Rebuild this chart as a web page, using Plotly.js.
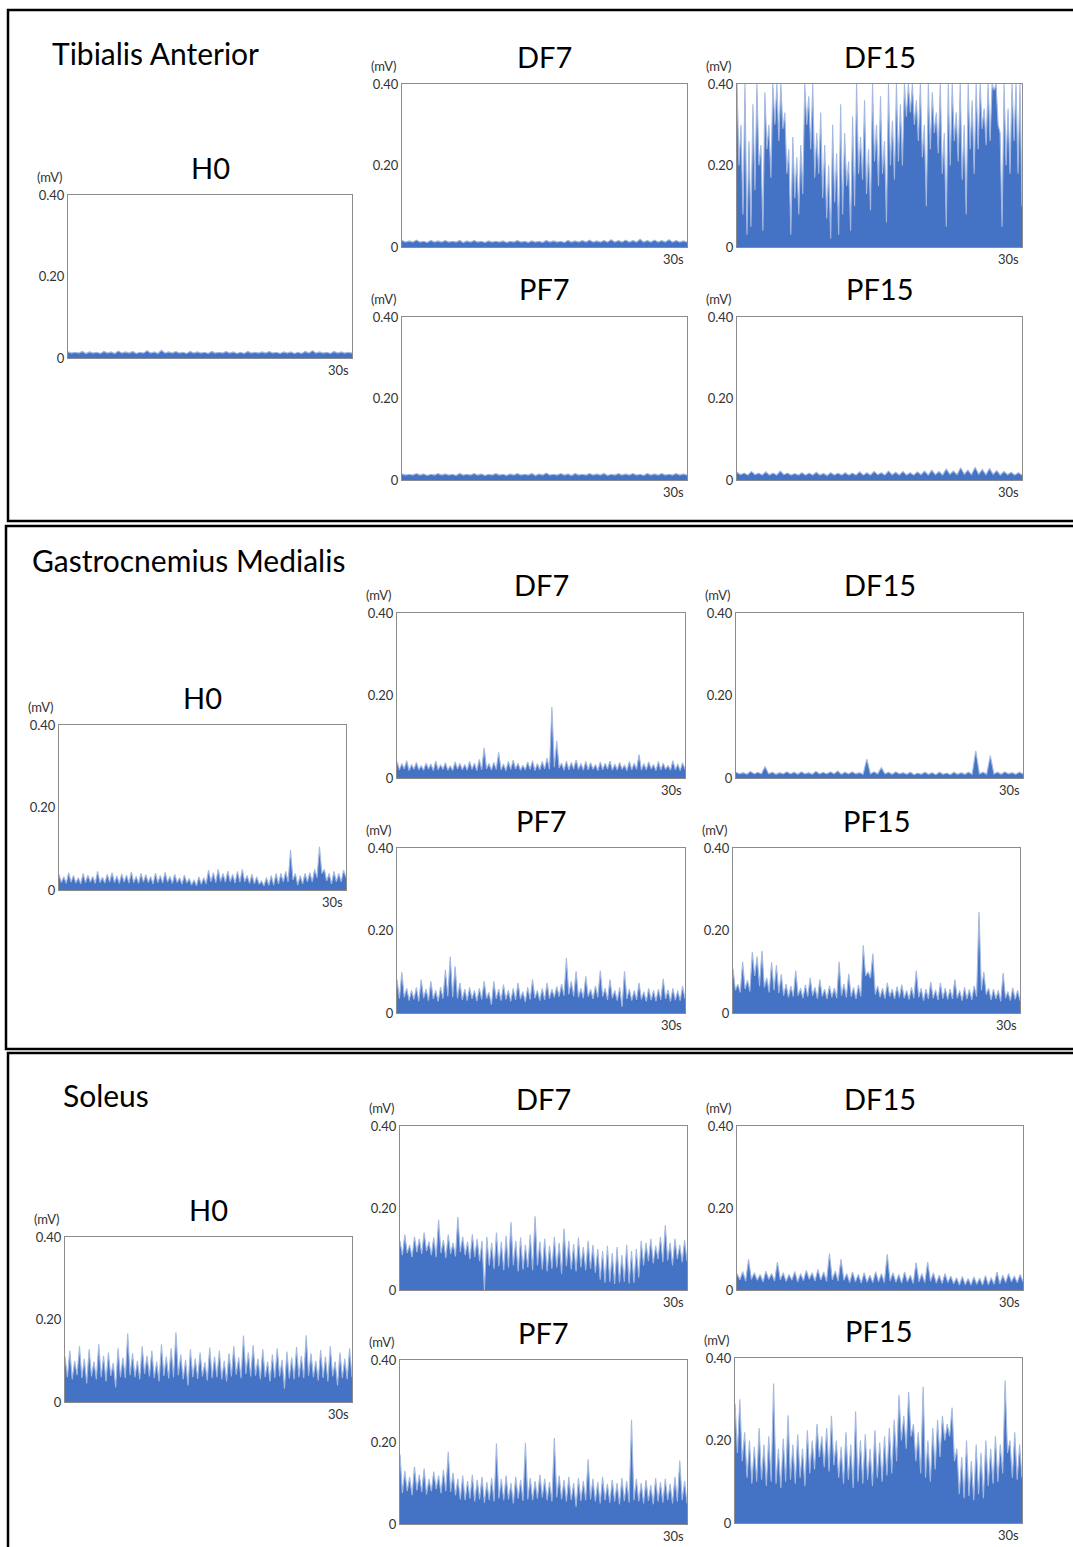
<!DOCTYPE html>
<html>
<head>
<meta charset="utf-8">
<script src="https://cdn.plot.ly/plotly-3.0.1.min.js"></script>
<style>html,body{margin:0;padding:0;background:#fff}#chart{width:1073px;height:1547px}</style>
</head>
<body>
<div id="chart"></div>
<script>
// ---------- DATA (EMG amplitude in mV; 0–30 s) ----------
const sectionNames = ["Tibialis Anterior", "Gastrocnemius Medialis", "Soleus"];
const conditionNames = ["H0", "DF7", "DF15", "PF7", "PF15"];
const yTickVals = [0, 0.2, 0.4];
const yTickText = ["0", "0.20", "0.40"];
const yUnit = "(mV)";
const xEndLabel = "30s";

const TA_H0 = [0.015,0.012,0.014,0.012,0.016,0.011,0.015,0.012,0.014,0.011,0.016,0.012,0.015,0.011,0.017,0.012,0.015,0.012,0.016,0.011,0.014,0.012,0.018,0.012,0.015,0.011,0.019,0.012,0.015,0.012,0.016,0.012,0.014,0.011,0.016,0.012,0.015,0.012,0.014,0.011,0.016,0.012,0.014,0.012,0.016,0.012,0.015,0.011,0.014,0.011,0.016,0.012,0.014,0.012,0.015,0.012,0.016,0.012,0.014,0.011,0.015,0.012,0.015,0.011,0.014,0.011,0.016,0.012,0.018,0.012,0.015,0.012,0.014,0.011,0.016,0.012,0.015,0.012,0.014,0.012];
const TA_DF7 = [0.016,0.012,0.015,0.012,0.017,0.012,0.014,0.011,0.016,0.012,0.015,0.012,0.016,0.012,0.014,0.012,0.016,0.011,0.015,0.012,0.016,0.012,0.014,0.011,0.015,0.012,0.014,0.012,0.015,0.011,0.014,0.012,0.016,0.012,0.014,0.011,0.015,0.012,0.014,0.011,0.016,0.012,0.015,0.012,0.014,0.011,0.016,0.012,0.015,0.012,0.016,0.012,0.017,0.012,0.015,0.012,0.016,0.012,0.018,0.012,0.016,0.012,0.017,0.012,0.016,0.012,0.019,0.012,0.016,0.012,0.017,0.012,0.016,0.012,0.018,0.012,0.016,0.012,0.015,0.012];
const TA_DF15 = [0.40,0.20,0.30,0.08,0.40,0.03,0.26,0.05,0.35,0.14,0.40,0.20,0.25,0.04,0.38,0.24,0.30,0.17,0.40,0.30,0.40,0.26,0.40,0.29,0.33,0.18,0.24,0.03,0.27,0.12,0.22,0.08,0.25,0.13,0.40,0.30,0.37,0.24,0.40,0.17,0.28,0.18,0.33,0.12,0.25,0.07,0.20,0.02,0.30,0.11,0.23,0.03,0.35,0.08,0.28,0.15,0.21,0.04,0.32,0.10,0.40,0.18,0.27,0.165,0.36,0.13,0.24,0.09,0.40,0.21,0.30,0.15,0.37,0.18,0.26,0.06,0.40,0.20,0.31,0.165,0.40,0.21,0.35,0.20,0.40,0.32,0.40,0.33,0.40,0.30,0.36,0.26,0.40,0.22,0.30,0.10,0.40,0.24,0.38,0.28,0.33,0.23,0.40,0.18,0.28,0.05,0.40,0.20,0.40,0.26,0.33,0.21,0.40,0.165,0.30,0.08,0.40,0.24,0.36,0.18,0.40,0.24,0.40,0.29,0.34,0.25,0.40,0.26,0.40,0.385,0.40,0.30,0.28,0.05,0.40,0.20,0.34,0.18,0.40,0.26,0.40,0.18,0.40,0.10];
const TA_PF7 = [0.015,0.012,0.014,0.012,0.016,0.012,0.015,0.011,0.014,0.012,0.016,0.012,0.015,0.012,0.014,0.011,0.016,0.012,0.014,0.012,0.016,0.012,0.015,0.011,0.014,0.012,0.016,0.012,0.014,0.011,0.015,0.012,0.016,0.012,0.014,0.012,0.016,0.011,0.015,0.012,0.017,0.012,0.014,0.012,0.016,0.012,0.015,0.011,0.016,0.012,0.014,0.012,0.016,0.012,0.015,0.012,0.016,0.011,0.014,0.012,0.016,0.012,0.015,0.012,0.016,0.012,0.014,0.011,0.016,0.012,0.015,0.012,0.016,0.012,0.014,0.012,0.016,0.012,0.015,0.012];
const TA_PF15 = [0.019,0.013,0.017,0.012,0.021,0.013,0.017,0.012,0.020,0.012,0.017,0.012,0.022,0.013,0.017,0.012,0.016,0.012,0.018,0.012,0.017,0.012,0.019,0.012,0.016,0.011,0.018,0.012,0.017,0.012,0.018,0.012,0.017,0.012,0.020,0.012,0.018,0.012,0.021,0.013,0.018,0.012,0.022,0.013,0.019,0.012,0.021,0.012,0.018,0.012,0.020,0.013,0.022,0.012,0.024,0.013,0.021,0.012,0.027,0.014,0.022,0.013,0.030,0.014,0.024,0.013,0.031,0.014,0.026,0.013,0.028,0.014,0.023,0.012,0.021,0.013,0.019,0.012,0.018,0.012];

const GM_H0 = [0.038,0.018,0.032,0.016,0.042,0.019,0.035,0.017,0.030,0.015,0.040,0.018,0.036,0.019,0.033,0.016,0.045,0.018,0.031,0.017,0.038,0.019,0.042,0.018,0.034,0.016,0.039,0.019,0.036,0.017,0.044,0.018,0.033,0.016,0.040,0.019,0.037,0.018,0.032,0.015,0.041,0.018,0.035,0.017,0.043,0.019,0.033,0.016,0.038,0.018,0.030,0.014,0.036,0.017,0.028,0.012,0.025,0.010,0.032,0.014,0.030,0.015,0.048,0.020,0.042,0.018,0.050,0.021,0.040,0.019,0.046,0.020,0.038,0.017,0.045,0.019,0.050,0.020,0.035,0.016,0.038,0.015,0.032,0.014,0.022,0.010,0.030,0.011,0.035,0.012,0.040,0.015,0.040,0.020,0.045,0.020,0.097,0.025,0.040,0.012,0.035,0.015,0.040,0.020,0.042,0.020,0.050,0.030,0.105,0.040,0.050,0.022,0.040,0.015,0.045,0.020,0.040,0.020,0.048,0.030];
const GM_DF7 = [0.040,0.020,0.035,0.022,0.042,0.018,0.033,0.021,0.038,0.020,0.030,0.019,0.036,0.022,0.034,0.018,0.041,0.020,0.032,0.021,0.037,0.019,0.030,0.018,0.039,0.022,0.035,0.020,0.033,0.019,0.040,0.021,0.036,0.018,0.045,0.020,0.073,0.022,0.035,0.019,0.038,0.021,0.062,0.020,0.034,0.018,0.040,0.021,0.043,0.022,0.036,0.019,0.031,0.020,0.039,0.021,0.042,0.018,0.035,0.020,0.040,0.022,0.048,0.021,0.172,0.026,0.090,0.024,0.036,0.019,0.041,0.020,0.038,0.022,0.044,0.021,0.035,0.019,0.040,0.020,0.037,0.021,0.033,0.018,0.039,0.020,0.036,0.022,0.041,0.019,0.034,0.020,0.038,0.021,0.032,0.018,0.040,0.020,0.036,0.021,0.057,0.019,0.035,0.020,0.039,0.022,0.033,0.018,0.040,0.020,0.036,0.021,0.031,0.019,0.042,0.020,0.034,0.018,0.037,0.021];
const GM_DF15 = [0.014,0.010,0.013,0.009,0.016,0.010,0.014,0.010,0.028,0.010,0.014,0.009,0.013,0.010,0.015,0.010,0.014,0.009,0.015,0.010,0.013,0.009,0.016,0.010,0.014,0.010,0.015,0.010,0.017,0.009,0.014,0.010,0.015,0.010,0.013,0.009,0.046,0.010,0.015,0.010,0.025,0.010,0.014,0.009,0.015,0.010,0.013,0.009,0.014,0.008,0.012,0.009,0.014,0.009,0.013,0.008,0.014,0.009,0.012,0.008,0.014,0.009,0.013,0.009,0.014,0.009,0.066,0.010,0.014,0.009,0.054,0.010,0.014,0.009,0.015,0.010,0.013,0.009,0.014,0.010];
const GM_PF7 = [0.081,0.035,0.099,0.038,0.060,0.030,0.055,0.033,0.062,0.028,0.081,0.036,0.058,0.030,0.077,0.034,0.055,0.028,0.063,0.035,0.105,0.040,0.137,0.038,0.113,0.036,0.073,0.032,0.058,0.030,0.062,0.034,0.055,0.029,0.060,0.033,0.077,0.035,0.050,0.020,0.077,0.034,0.058,0.030,0.069,0.033,0.055,0.028,0.060,0.032,0.073,0.034,0.052,0.027,0.062,0.033,0.081,0.036,0.055,0.030,0.060,0.032,0.073,0.035,0.058,0.038,0.064,0.040,0.070,0.042,0.133,0.045,0.077,0.040,0.101,0.038,0.060,0.036,0.089,0.040,0.058,0.034,0.066,0.038,0.103,0.040,0.060,0.032,0.081,0.036,0.055,0.030,0.062,0.015,0.101,0.034,0.058,0.030,0.055,0.032,0.073,0.033,0.052,0.028,0.060,0.031,0.055,0.029,0.058,0.032,0.083,0.034,0.056,0.028,0.060,0.031,0.054,0.030,0.065,0.034];
const GM_PF15 = [0.107,0.055,0.070,0.050,0.124,0.058,0.080,0.052,0.148,0.090,0.137,0.065,0.151,0.062,0.085,0.050,0.123,0.055,0.116,0.048,0.094,0.042,0.070,0.038,0.065,0.040,0.103,0.042,0.060,0.036,0.068,0.040,0.085,0.042,0.062,0.035,0.081,0.040,0.058,0.034,0.066,0.038,0.060,0.036,0.124,0.042,0.070,0.038,0.095,0.040,0.062,0.034,0.068,0.040,0.164,0.090,0.100,0.085,0.144,0.045,0.065,0.038,0.060,0.035,0.073,0.040,0.058,0.034,0.064,0.038,0.069,0.036,0.055,0.033,0.062,0.036,0.103,0.038,0.060,0.030,0.058,0.034,0.075,0.036,0.056,0.032,0.073,0.035,0.060,0.033,0.058,0.034,0.081,0.036,0.055,0.030,0.062,0.034,0.057,0.032,0.066,0.040,0.245,0.055,0.100,0.045,0.060,0.032,0.058,0.034,0.055,0.028,0.097,0.036,0.052,0.030,0.061,0.033,0.055,0.030];

const SO_H0 = [0.110,0.060,0.125,0.055,0.100,0.065,0.135,0.058,0.105,0.045,0.128,0.062,0.098,0.055,0.140,0.060,0.112,0.050,0.120,0.063,0.095,0.035,0.130,0.060,0.108,0.058,0.166,0.065,0.118,0.060,0.100,0.055,0.135,0.068,0.112,0.062,0.125,0.058,0.098,0.050,0.140,0.063,0.110,0.057,0.130,0.060,0.169,0.065,0.115,0.055,0.102,0.040,0.128,0.060,0.105,0.056,0.120,0.062,0.096,0.052,0.132,0.058,0.110,0.060,0.124,0.055,0.100,0.050,0.118,0.062,0.135,0.066,0.108,0.058,0.161,0.068,0.120,0.062,0.138,0.064,0.105,0.055,0.128,0.060,0.098,0.050,0.115,0.058,0.130,0.062,0.102,0.032,0.122,0.057,0.108,0.055,0.133,0.060,0.112,0.058,0.162,0.064,0.118,0.060,0.100,0.052,0.126,0.058,0.110,0.050,0.135,0.062,0.098,0.040,0.120,0.058,0.105,0.055,0.130,0.060];
const SO_DF7 = [0.120,0.085,0.135,0.090,0.110,0.080,0.130,0.092,0.125,0.088,0.140,0.095,0.118,0.085,0.128,0.080,0.171,0.090,0.122,0.078,0.135,0.088,0.115,0.082,0.178,0.092,0.130,0.085,0.118,0.075,0.136,0.080,0.125,0.070,0.120,0.000,0.130,0.060,0.115,0.052,0.140,0.058,0.118,0.048,0.132,0.055,0.166,0.060,0.120,0.045,0.128,0.050,0.110,0.055,0.135,0.048,0.180,0.060,0.118,0.050,0.125,0.045,0.108,0.052,0.130,0.055,0.115,0.040,0.150,0.058,0.120,0.050,0.112,0.045,0.128,0.055,0.105,0.048,0.120,0.052,0.110,0.042,0.100,0.025,0.095,0.018,0.108,0.020,0.090,0.015,0.105,0.018,0.085,0.020,0.110,0.016,0.095,0.018,0.100,0.030,0.120,0.060,0.115,0.070,0.125,0.065,0.108,0.075,0.130,0.068,0.158,0.072,0.115,0.060,0.125,0.075,0.110,0.068,0.122,0.070];
const SO_DF15 = [0.040,0.025,0.045,0.022,0.075,0.026,0.042,0.024,0.038,0.020,0.046,0.026,0.040,0.022,0.068,0.025,0.042,0.021,0.038,0.024,0.045,0.020,0.040,0.023,0.048,0.026,0.042,0.022,0.050,0.024,0.044,0.021,0.089,0.025,0.046,0.022,0.075,0.024,0.040,0.018,0.044,0.020,0.038,0.017,0.042,0.019,0.036,0.018,0.045,0.020,0.040,0.018,0.087,0.022,0.042,0.019,0.038,0.017,0.044,0.020,0.036,0.016,0.067,0.020,0.040,0.018,0.068,0.021,0.042,0.017,0.036,0.016,0.040,0.018,0.034,0.015,0.030,0.012,0.033,0.013,0.028,0.012,0.032,0.014,0.029,0.012,0.035,0.013,0.030,0.014,0.044,0.015,0.036,0.018,0.040,0.020,0.034,0.018,0.038,0.020];
const SO_PF7 = [0.170,0.075,0.130,0.080,0.115,0.070,0.140,0.082,0.120,0.078,0.135,0.072,0.110,0.080,0.128,0.085,0.118,0.075,0.132,0.080,0.176,0.078,0.125,0.070,0.110,0.060,0.118,0.058,0.105,0.062,0.120,0.055,0.108,0.060,0.115,0.052,0.102,0.058,0.112,0.055,0.196,0.062,0.110,0.058,0.118,0.060,0.100,0.050,0.115,0.062,0.108,0.056,0.198,0.060,0.112,0.058,0.105,0.062,0.120,0.065,0.110,0.058,0.102,0.055,0.210,0.065,0.118,0.060,0.108,0.055,0.115,0.058,0.100,0.042,0.112,0.056,0.105,0.058,0.158,0.060,0.110,0.055,0.102,0.050,0.115,0.058,0.098,0.052,0.108,0.055,0.100,0.048,0.112,0.056,0.105,0.052,0.254,0.058,0.110,0.055,0.100,0.050,0.108,0.056,0.095,0.048,0.112,0.055,0.102,0.052,0.110,0.058,0.098,0.050,0.115,0.055,0.155,0.058,0.105,0.050];
const SO_PF15 = [0.290,0.170,0.300,0.150,0.220,0.110,0.200,0.095,0.185,0.100,0.230,0.105,0.190,0.090,0.210,0.100,0.338,0.095,0.180,0.085,0.205,0.100,0.261,0.105,0.190,0.095,0.215,0.110,0.180,0.090,0.225,0.120,0.200,0.130,0.240,0.160,0.210,0.135,0.230,0.125,0.260,0.140,0.200,0.110,0.185,0.095,0.220,0.105,0.190,0.085,0.270,0.100,0.200,0.095,0.215,0.105,0.180,0.090,0.225,0.110,0.195,0.100,0.210,0.115,0.230,0.120,0.250,0.150,0.310,0.200,0.260,0.180,0.318,0.210,0.240,0.150,0.220,0.120,0.331,0.110,0.200,0.100,0.230,0.130,0.250,0.160,0.260,0.200,0.240,0.210,0.280,0.150,0.180,0.070,0.160,0.060,0.200,0.065,0.150,0.055,0.190,0.070,0.170,0.060,0.200,0.090,0.180,0.095,0.210,0.100,0.190,0.120,0.346,0.170,0.200,0.110,0.220,0.105,0.190,0.110];

// ---------- LAYOUT GEOMETRY (pixels in the 1073x1547 page) ----------
const W = 1073, H = 1547;
const panels = [
  {data: TA_H0,  title: conditionNames[0], px: [68, 352],  py: [195, 358]},
  {data: TA_DF7, title: conditionNames[1], px: [402, 687], py: [84, 247]},
  {data: TA_DF15,title: conditionNames[2], px: [737, 1022],py: [84, 247]},
  {data: TA_PF7, title: conditionNames[3], px: [402, 687], py: [317, 480]},
  {data: TA_PF15,title: conditionNames[4], px: [737, 1022],py: [317, 480]},
  {data: GM_H0,  title: conditionNames[0], px: [59, 346],  py: [725, 890]},
  {data: GM_DF7, title: conditionNames[1], px: [397, 685], py: [613, 778]},
  {data: GM_DF15,title: conditionNames[2], px: [736, 1023],py: [613, 778]},
  {data: GM_PF7, title: conditionNames[3], px: [397, 685], py: [848, 1013]},
  {data: GM_PF15,title: conditionNames[4], px: [733, 1020],py: [848, 1013]},
  {data: SO_H0,  title: conditionNames[0], px: [65, 352],  py: [1237, 1402]},
  {data: SO_DF7, title: conditionNames[1], px: [400, 687], py: [1126, 1290]},
  {data: SO_DF15,title: conditionNames[2], px: [737, 1023],py: [1126, 1290]},
  {data: SO_PF7, title: conditionNames[3], px: [400, 687], py: [1360, 1524]},
  {data: SO_PF15,title: conditionNames[4], px: [735, 1022],py: [1358, 1523]}
];
const sectionTitlePos = [[50, 53], [30, 560], [61, 1095]];
const sectionBoxes = [[8, 10, 521], [6, 526, 1049], [8, 1053, 1600]];

const FONT = "Lato, 'Noto Sans', sans-serif";
const traces = [];
const layout = {
  width: W, height: H,
  margin: {l: 0, r: 0, t: 0, b: 0},
  paper_bgcolor: "#ffffff", plot_bgcolor: "#ffffff",
  showlegend: false,
  font: {family: FONT, color: "#222"},
  annotations: [], shapes: []
};
const fx = p => p / W;
const fy = p => 1 - p / H;

panels.forEach((p, i) => {
  const n = i + 1;
  const xa = n === 1 ? "x" : "x" + n;
  const ya = n === 1 ? "y" : "y" + n;
  const xs = p.data.map((_, k) => k * 30 / (p.data.length - 1));
  traces.push({
    type: "scatter", mode: "lines", x: xs, y: p.data,
    xaxis: xa, yaxis: ya,
    fill: "tozeroy", fillcolor: "#4472C4",
    line: {color: "#A4B9E0", width: 1.1},
    hoverinfo: "skip"
  });
  const axBase = {showgrid: false, zeroline: false, showline: true, mirror: true,
                  linecolor: "#8c8c8c", linewidth: 1, fixedrange: true};
  layout["xaxis" + (n === 1 ? "" : n)] = Object.assign({}, axBase, {
    domain: [fx(p.px[0]), fx(p.px[1])], range: [0, 30],
    showticklabels: false, ticks: "", anchor: ya
  });
  layout["yaxis" + (n === 1 ? "" : n)] = Object.assign({}, axBase, {
    domain: [fy(p.py[1]), fy(p.py[0])], range: [0, 0.4],
    tickvals: yTickVals, ticktext: yTickText, ticks: "",
    tickfont: {family: FONT, size: 13, color: "#333"}, anchor: xa
  });
  layout.annotations.push({
    text: p.title, xref: xa + " domain", yref: ya + " domain",
    x: 0.5, y: 1, xanchor: "center", yanchor: "middle", yshift: 28,
    showarrow: false, font: {family: FONT, size: 29, color: "#000"}
  });
  layout.annotations.push({
    text: yUnit, xref: xa + " domain", yref: ya + " domain",
    x: 0, y: 1, xanchor: "right", yanchor: "middle", xshift: -3, yshift: 18,
    showarrow: false, font: {family: FONT, size: 13, color: "#333"}
  });
  layout.annotations.push({
    text: xEndLabel, xref: xa + " domain", yref: ya + " domain",
    x: 1, y: 0, xanchor: "right", yanchor: "top", xshift: -1, yshift: -2,
    showarrow: false, font: {family: FONT, size: 13, color: "#333"}
  });
});

sectionNames.forEach((s, i) => {
  layout.annotations.push({
    text: s, xref: "paper", yref: "paper",
    x: fx(sectionTitlePos[i][0]), y: fy(sectionTitlePos[i][1]),
    xanchor: "left", yanchor: "middle", showarrow: false,
    font: {family: FONT, size: 30, color: "#000"}
  });
  const b = sectionBoxes[i];
  layout.shapes.push({
    type: "rect", xref: "paper", yref: "paper",
    x0: fx(b[0]), x1: 1.05, y0: fy(b[2]), y1: fy(b[1]),
    line: {color: "#000", width: 2.5}, fillcolor: "rgba(0,0,0,0)"
  });
});

Plotly.newPlot("chart", traces, layout, {staticPlot: true, displayModeBar: false});
</script>
</body>
</html>
